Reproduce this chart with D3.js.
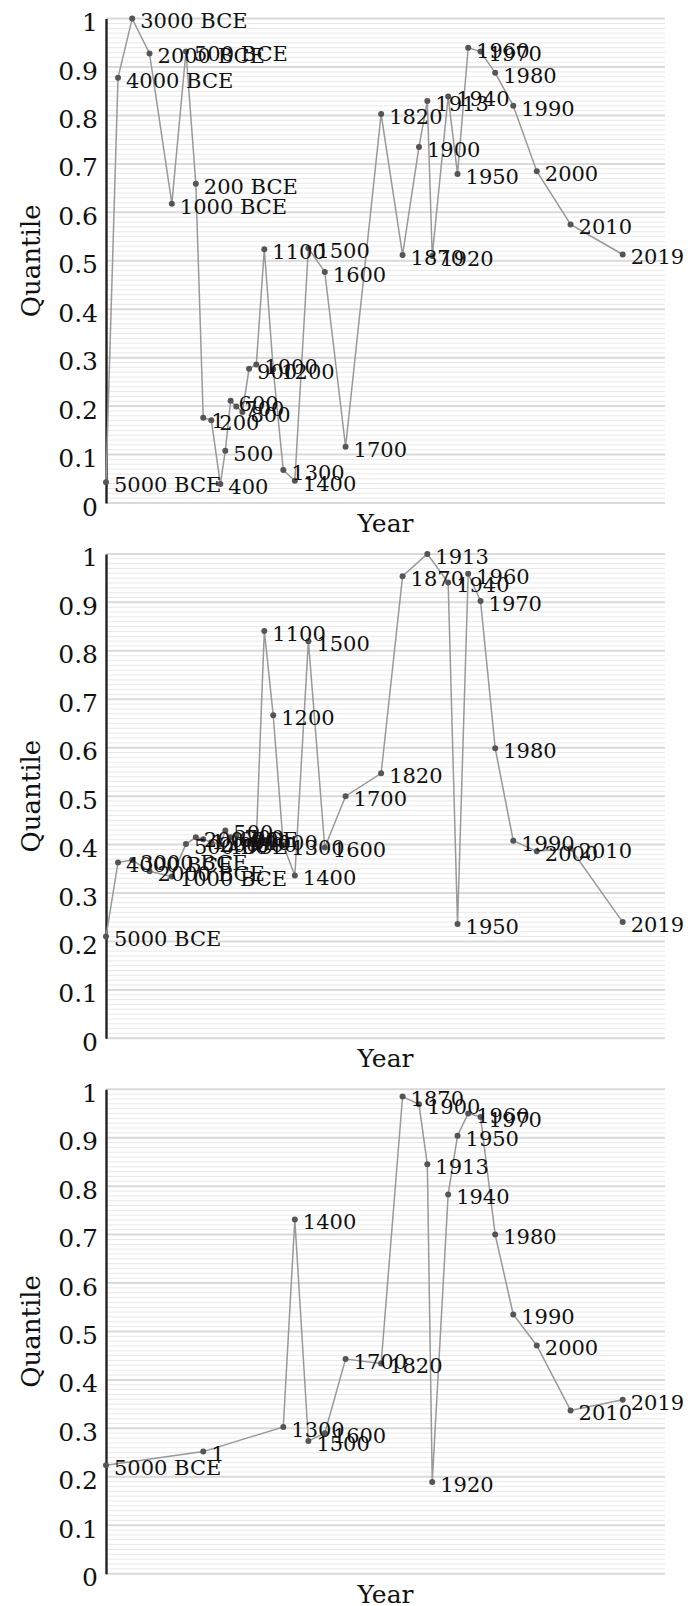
<!DOCTYPE html>
<html>
<head>
<meta charset="utf-8">
<script src="https://cdn.jsdelivr.net/npm/d3@7"></script>
<style>
  body { margin: 0; background: #fff; }
  svg text { font-family: "DejaVu Serif", serif; fill: #111; }
</style>
</head>
<body>
<div id="chart"></div>
<script>
// years (negative = BCE) and quantile values, one pair of arrays per panel
const years1 = [-5000, -4000, -3000, -2000, -1000, -500, -200, 1, 200, 400, 500, 600, 700, 800, 900, 1000,
  1100, 1200, 1300, 1400, 1500, 1600, 1700, 1820, 1870, 1900, 1913, 1920, 1940, 1950, 1960, 1970, 1980, 1990, 2000, 2010, 2019];
const quantiles1 = [0.043, 0.878, 1.0, 0.928, 0.618, 0.932, 0.659, 0.176, 0.171, 0.039, 0.108, 0.211, 0.199, 0.188, 0.277, 0.286,
  0.524, 0.276, 0.068, 0.046, 0.526, 0.477, 0.116, 0.803, 0.512, 0.735, 0.830, 0.510, 0.839, 0.679, 0.940, 0.932, 0.888, 0.820, 0.685, 0.575, 0.513];

const years2 = [-5000, -4000, -3000, -2000, -1000, -500, -200, 1, 200, 400, 500, 600, 700, 800, 900, 1000,
  1100, 1200, 1300, 1400, 1500, 1600, 1700, 1820, 1870, 1913, 1940, 1950, 1960, 1970, 1980, 1990, 2000, 2010, 2019];
const quantiles2 = [0.210, 0.363, 0.368, 0.345, 0.334, 0.401, 0.415, 0.411, 0.405, 0.400, 0.429, 0.415, 0.420, 0.410, 0.405, 0.410,
  0.841, 0.667, 0.399, 0.336, 0.820, 0.394, 0.500, 0.547, 0.954, 1.0, 0.941, 0.236, 0.959, 0.903, 0.599, 0.408, 0.386, 0.392, 0.240];

const years3 = [-5000, 1, 1300, 1400, 1500, 1600, 1700, 1820, 1870, 1900, 1913, 1920, 1940, 1950, 1960, 1970, 1980, 1990, 2000, 2010, 2019];
const quantiles3 = [0.224, 0.252, 0.303, 0.731, 0.274, 0.290, 0.443, 0.434, 0.985, 0.969, 0.845, 0.189, 0.783, 0.904, 0.950, 0.943, 0.700, 0.535, 0.471, 0.337, 0.359];

const tickValues = [0, 0.1, 0.2, 0.3, 0.4, 0.5, 0.6, 0.7, 0.8, 0.9, 1];
const tickLabels = ["0", "0.1", "0.2", "0.3", "0.4", "0.5", "0.6", "0.7", "0.8", "0.9", "1"];

const panels = [
  { years: years1, values: quantiles1 },
  { years: years2, values: quantiles2 },
  { years: years3, values: quantiles3 },
];

const width = 698, height = 1606;
const panelH = height / 3;
const left = 106, right = 665;

const svg = d3.select("#chart").append("svg")
  .attr("width", width).attr("height", height);

// x is a reversed log of "years before ~2028"
const yearOffset = 2028.5;
const x = d3.scaleLog()
  .domain([yearOffset + 5000, yearOffset - 2019])
  .range([left, 622.7]);
const y = d3.scaleLinear().domain([0, 1]).range([503, 18.6]);

const yearLabel = (yr) => (yr < 0 ? `${-yr} BCE` : `${yr}`);

panels.forEach((p, i) => {
  const g = svg.append("g").attr("transform", `translate(0,${i * panelH})`);

  // minor gridlines
  g.append("g").selectAll("line")
    .data(d3.range(0, 101).map((k) => k / 100))
    .enter().append("line")
    .attr("x1", left).attr("x2", right)
    .attr("y1", (d) => y(d)).attr("y2", (d) => y(d))
    .attr("stroke", "#e9e9e9").attr("stroke-width", 1);

  // major gridlines
  g.append("g").selectAll("line")
    .data(tickValues)
    .enter().append("line")
    .attr("x1", left).attr("x2", right)
    .attr("y1", (d) => y(d)).attr("y2", (d) => y(d))
    .attr("stroke", "#dadada").attr("stroke-width", 2);

  // y axis
  const axis = g.append("g")
    .attr("transform", `translate(${left},0)`)
    .call(d3.axisLeft(y).tickValues(tickValues)
      .tickFormat((d, k) => tickLabels[k]).tickSize(0).tickSizeOuter(0).tickPadding(8));
  axis.select(".domain").attr("stroke", "#222").attr("stroke-width", 2.4);
  axis.selectAll("text")
    .attr("font-family", "DejaVu Serif").attr("font-size", 25)
    .attr("dy", "0.48em").attr("fill", "#111");

  const pts = p.years.map((yr, k) => ({ year: yr, value: p.values[k] }));

  const line = d3.line()
    .x((d) => x(yearOffset - d.year))
    .y((d) => y(d.value));

  g.append("path")
    .datum(pts)
    .attr("d", line)
    .attr("fill", "none")
    .attr("stroke", "#999")
    .attr("stroke-width", 1.5);

  g.selectAll("circle.pt")
    .data(pts)
    .enter().append("circle")
    .attr("class", "pt")
    .attr("cx", (d) => x(yearOffset - d.year))
    .attr("cy", (d) => y(d.value))
    .attr("r", 3)
    .attr("fill", "#555");

  g.selectAll("text.lbl")
    .data(pts)
    .enter().append("text")
    .attr("class", "lbl")
    .attr("x", (d) => x(yearOffset - d.year) + 8)
    .attr("y", (d) => y(d.value))
    .attr("dy", "0.47em")
    .attr("font-size", 21)
    .text((d) => yearLabel(d.year));

  // axis titles
  g.append("text")
    .attr("x", (left + right) / 2)
    .attr("y", 532)
    .attr("text-anchor", "middle")
    .attr("font-size", 25)
    .text("Year");

  g.append("text")
    .attr("transform", `translate(40,${(y(0) + y(1)) / 2}) rotate(-90)`)
    .attr("text-anchor", "middle")
    .attr("font-size", 26)
    .text("Quantile");
});
</script>
</body>
</html>
